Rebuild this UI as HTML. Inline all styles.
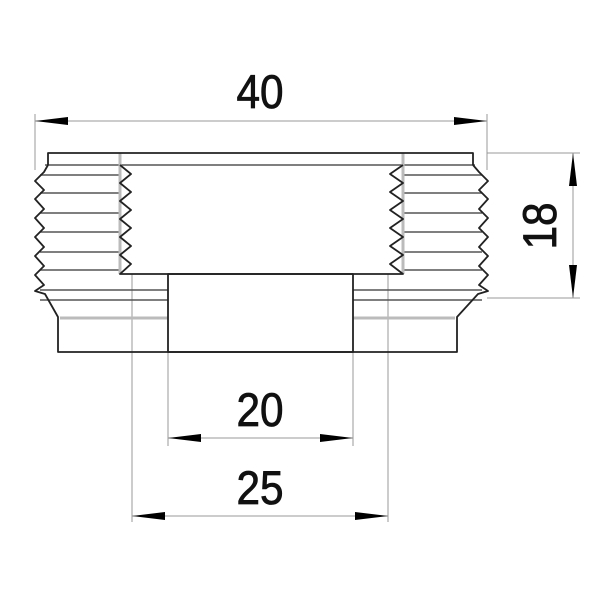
<!DOCTYPE html>
<html><head><style>html,body{margin:0;padding:0;background:#fff}</style></head>
<body>
<svg width="600" height="600" viewBox="0 0 600 600" xmlns="http://www.w3.org/2000/svg">
<g stroke="#999" stroke-width="1" fill="none">
<line x1="35" y1="114" x2="35" y2="170"/>
<line x1="487" y1="114" x2="487" y2="170"/>
<line x1="487" y1="153" x2="580" y2="153"/>
<line x1="487" y1="298" x2="580" y2="298"/>
<line x1="132" y1="274" x2="132" y2="522"/>
<line x1="388" y1="274" x2="388" y2="522"/>
<line x1="168" y1="352" x2="168" y2="446"/>
<line x1="353" y1="352" x2="353" y2="446"/>
<line x1="35" y1="121" x2="487" y2="121"/>
<line x1="573" y1="153" x2="573" y2="298"/>
<line x1="168" y1="438" x2="353" y2="438"/>
<line x1="132" y1="516" x2="388" y2="516"/>
</g>
<g fill="#000">
<polygon points="35,121 68,117 68,125"/>
<polygon points="487,121 454,117 454,125"/>
<polygon points="573,153 569,186 577,186"/>
<polygon points="573,298 569,265 577,265"/>
<polygon points="168,438 201,434 201,442"/>
<polygon points="353,438 320,434 320,442"/>
<polygon points="132,516 165,512 165,520"/>
<polygon points="388,516 355,512 355,520"/>
</g>
<g stroke="#555" stroke-width="1.5" fill="none">
<line x1="45" y1="165" x2="475" y2="165"/>
<line x1="40" y1="175" x2="120" y2="175"/><line x1="40" y1="193" x2="120" y2="193"/>
<line x1="40" y1="213" x2="120" y2="213"/><line x1="40" y1="232" x2="120" y2="232"/>
<line x1="40" y1="252" x2="120" y2="252"/><line x1="40" y1="270" x2="120" y2="270"/>
<line x1="403" y1="175" x2="482" y2="175"/><line x1="403" y1="193" x2="482" y2="193"/>
<line x1="403" y1="213" x2="482" y2="213"/><line x1="403" y1="232" x2="482" y2="232"/>
<line x1="403" y1="252" x2="482" y2="252"/><line x1="403" y1="270" x2="482" y2="270"/>
<line x1="40" y1="290" x2="168" y2="290"/><line x1="40" y1="300" x2="168" y2="300"/>
<line x1="353" y1="290" x2="482" y2="290"/><line x1="353" y1="300" x2="482" y2="300"/>
</g>
<g stroke="#bbb" stroke-width="3">
<line x1="60" y1="318" x2="168" y2="318"/><line x1="353" y1="318" x2="455" y2="318"/>
<line x1="120" y1="153" x2="120" y2="274"/><line x1="403" y1="153" x2="403" y2="274"/>
</g>
<g stroke="#222" stroke-width="1.8" fill="none" stroke-linejoin="round">
<polyline points="48,165 48,153 473,153 473,165"/>
<polyline points="48,165 44,172 35,181 44,190 35,199 44,209 35,218 44,228 35,237 44,247 35,256 44,266 35,275 44,285 35,291 45,294 58,317 58,352 457,352 457,317 478,294 488,291 479,285 488,275 479,266 488,256 479,247 488,237 479,228 488,218 479,209 488,199 479,190 488,181 479,172 473,165"/>
<polyline points="120,165 131,174 120,183 131,192 120,201 131,210 120,219 131,228 120,237 131,246 120,255 131,264 120,274 403,274 390,264 403,255 390,246 403,237 390,228 403,219 390,210 403,201 390,192 403,183 390,174 403,165"/>
<rect x="168" y="274" width="185" height="78"/>
</g>
<g font-family="Liberation Sans, sans-serif" font-size="47" fill="#111" stroke="#111" stroke-width="0.8">
<text x="260" y="108" text-anchor="middle" transform="translate(260 0) scale(0.9 1) translate(-260 0)">40</text>
<text x="260" y="426" text-anchor="middle" transform="translate(260 0) scale(0.9 1) translate(-260 0)">20</text>
<text x="260" y="504" text-anchor="middle" transform="translate(260 0) scale(0.9 1) translate(-260 0)">25</text>
<text x="0" y="0" text-anchor="middle" transform="translate(556 226) rotate(-90) scale(0.9 1)">18</text>
</g>
</svg>
</body></html>
